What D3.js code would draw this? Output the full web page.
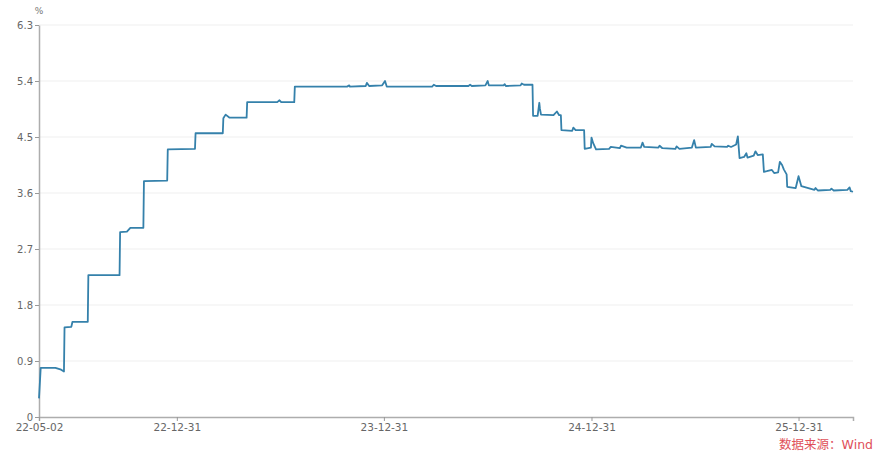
<!DOCTYPE html>
<html>
<head>
<meta charset="utf-8">
<script src="https://cdn.jsdelivr.net/npm/d3@7"></script>
<style>
  html, body { margin: 0; padding: 0; background: #fff; }
  svg { display: block; }
</style>
</head>
<body>
<svg id="chart" width="874" height="452"></svg>
<script>
// ---- data ----
const dates = [
  "2022-05-02","2022-05-05","2022-05-31","2022-06-10","2022-06-15","2022-06-16","2022-06-28","2022-06-30","2022-07-27",
  "2022-07-28","2022-09-21","2022-09-22","2022-10-04","2022-10-10","2022-11-02","2022-11-03","2022-12-14",
  "2022-12-15","2023-02-01","2023-02-02","2023-03-22","2023-03-23","2023-03-27","2023-04-03","2023-05-03",
  "2023-05-04","2023-06-26","2023-06-30","2023-07-03","2023-07-26","2023-07-27","2023-10-27","2023-10-31","2023-11-01",
  "2023-11-29","2023-12-01","2023-12-05","2023-12-28","2024-01-02","2024-01-05","2024-03-25","2024-03-28","2024-04-01",
  "2024-05-28","2024-05-31","2024-06-03","2024-06-27","2024-07-01","2024-07-03","2024-07-29","2024-07-31","2024-08-02",
  "2024-08-28","2024-08-30","2024-09-03","2024-09-18","2024-09-19","2024-09-27","2024-09-30","2024-10-01","2024-10-03",
  "2024-10-25","2024-10-31","2024-11-04","2024-11-07","2024-11-08","2024-11-27","2024-11-29","2024-12-03","2024-12-18",
  "2024-12-19","2024-12-30","2024-12-31","2025-01-03","2025-01-08","2025-01-31","2025-02-03","2025-02-19","2025-02-21",
  "2025-03-03","2025-03-28","2025-03-31","2025-04-03","2025-04-28","2025-04-30","2025-05-05","2025-05-28","2025-05-30",
  "2025-06-04","2025-06-26","2025-06-30","2025-07-03","2025-07-29","2025-07-31","2025-08-05","2025-08-27","2025-08-29",
  "2025-09-03","2025-09-12","2025-09-15","2025-09-18","2025-09-26","2025-09-30","2025-10-02","2025-10-13","2025-10-16",
  "2025-10-20","2025-10-29","2025-10-31","2025-11-05","2025-11-14","2025-11-18","2025-11-25","2025-11-28","2025-12-02",
  "2025-12-05","2025-12-10","2025-12-11","2025-12-26","2025-12-31","2026-01-05","2026-01-28","2026-01-30","2026-02-03",
  "2026-02-25","2026-02-27","2026-03-03","2026-03-27","2026-03-31","2026-04-02","2026-04-06"
];
const rates = [
  0.30,0.79,0.79,0.76,0.73,1.44,1.45,1.53,1.53,
  2.28,2.28,2.97,2.98,3.04,3.04,3.79,3.80,
  4.30,4.31,4.56,4.56,4.80,4.86,4.81,4.81,
  5.06,5.06,5.09,5.06,5.06,5.31,5.31,5.33,5.31,
  5.32,5.37,5.32,5.33,5.40,5.31,5.31,5.34,5.32,
  5.32,5.34,5.32,5.33,5.40,5.33,5.33,5.35,5.32,
  5.33,5.36,5.34,5.34,4.84,4.84,5.05,4.96,4.86,
  4.85,4.91,4.85,4.85,4.61,4.60,4.65,4.61,4.61,
  4.31,4.33,4.49,4.40,4.30,4.31,4.34,4.32,4.36,
  4.33,4.33,4.41,4.34,4.33,4.36,4.32,4.31,4.35,
  4.31,4.33,4.45,4.33,4.34,4.39,4.35,4.34,4.36,
  4.34,4.38,4.51,4.16,4.18,4.24,4.17,4.20,4.27,
  4.21,4.22,3.94,3.95,3.97,3.92,3.93,4.10,4.05,
  3.98,3.90,3.70,3.68,3.87,3.71,3.65,3.68,3.64,
  3.65,3.67,3.64,3.65,3.69,3.63,3.62
];
const yTicks = [0, 0.9, 1.8, 2.7, 3.6, 4.5, 5.4, 6.3];
const xTickDates = ["2022-05-02","2022-12-31","2023-12-31","2024-12-31","2025-12-31"];
const unitLabel = "%";
const sourceLabel = "数据来源：Wind";

// ---- chart ----
const parse = d3.timeParse("%Y-%m-%d");
const data = dates.map((d, i) => ({ date: parse(d), value: rates[i] }));

const svg = d3.select("#chart");
const x = d3.scaleTime()
  .domain([parse(dates[0]), parse(dates[dates.length - 1])])
  .range([39, 853]);
const y = d3.scaleLinear().domain([0, 6.3]).range([417, 25]);

const font = "'DejaVu Sans', 'Noto Sans CJK SC', sans-serif";

// grid
svg.append("g")
  .selectAll("line")
  .data(yTicks.filter(t => t > 0))
  .join("line")
  .attr("x1", 39).attr("x2", 853)
  .attr("y1", d => y(d)).attr("y2", d => y(d))
  .attr("stroke", "#efefef").attr("stroke-width", 1);

// y axis
const yAxis = svg.append("g")
  .attr("transform", "translate(39,0)")
  .call(d3.axisLeft(y).tickValues(yTicks).tickFormat(d => d === 0 ? "0" : d3.format(".1f")(d)).tickSize(4).tickSizeOuter(0).tickPadding(2));
yAxis.select(".domain").attr("stroke", "#adadad").attr("stroke-width", 1.5);
yAxis.selectAll(".tick line").attr("stroke", "#999");
yAxis.selectAll("text").attr("fill", "#666").style("font-family", font).style("font-size", "10px");

// x axis
const xAxis = svg.append("g")
  .attr("transform", "translate(0,417)")
  .call(d3.axisBottom(x).tickValues(xTickDates.map(parse)).tickFormat(d3.timeFormat("%y-%m-%d")).tickSize(4).tickSizeOuter(4).tickPadding(3));
xAxis.select(".domain").attr("stroke", "#adadad").attr("stroke-width", 1.5);
xAxis.selectAll(".tick line").attr("stroke", "#999");
xAxis.selectAll("text").attr("fill", "#666").style("font-family", font).style("font-size", "10.5px");

// line
const line = d3.line()
  .x(d => x(d.date))
  .y(d => y(d.value));
svg.append("path")
  .datum(data)
  .attr("fill", "none")
  .attr("stroke", "#3581ab")
  .attr("stroke-width", 1.8)
  .attr("stroke-linejoin", "round")
  .attr("d", line);

// unit label
svg.append("text")
  .attr("x", 39).attr("y", 14)
  .attr("text-anchor", "middle")
  .attr("fill", "#777")
  .style("font-family", font).style("font-size", "9px")
  .text(unitLabel);

// source
svg.append("text")
  .attr("x", 873).attr("y", 449)
  .attr("text-anchor", "end")
  .attr("fill", "#e0505a")
  .style("font-family", font).style("font-size", "12.5px")
  .text(sourceLabel);
</script>
</body>
</html>
